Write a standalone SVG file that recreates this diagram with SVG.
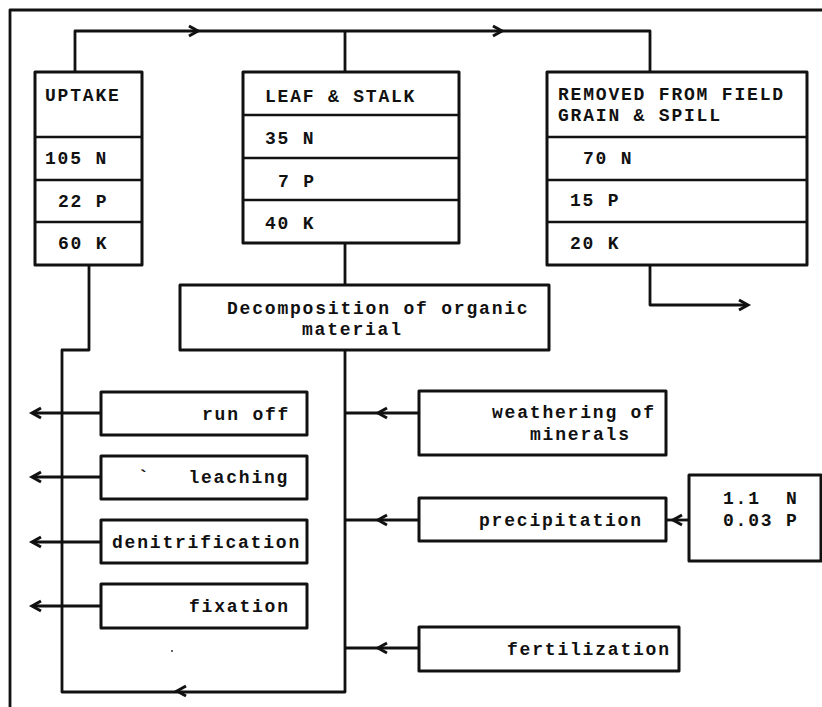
<svg xmlns="http://www.w3.org/2000/svg" width="822" height="707" viewBox="0 0 822 707">
<style>
.box{fill:#fff;stroke:#111;stroke-width:3;stroke-linejoin:round}
.div{stroke:#111;stroke-width:2.5}
.ln{fill:none;stroke:#111;stroke-width:2.8;stroke-linejoin:round}
.t{font-family:"Liberation Mono","DejaVu Sans Mono",monospace;font-weight:bold;font-size:18px;letter-spacing:1.8px;fill:#111;white-space:pre}
</style>
<defs>
<path id="chev" d="M9,-5 L0,0 L9,5" fill="none" stroke="#111" stroke-width="3" stroke-linejoin="miter"/>
</defs>
<rect width="822" height="707" fill="#fff"/>
<g id="frame">
<path class="ln" d="M10,707 V10 H822"/>
</g>
<g id="connectors">
<path class="ln" d="M75,72 V31 H650 V72"/>
<path class="ln" d="M345,31 V72"/>
<use href="#chev" transform="translate(198,31) rotate(180)"/>
<use href="#chev" transform="translate(502,31) rotate(180)"/>
<path class="ln" d="M650,265 V305 H747"/>
<use href="#chev" transform="translate(748,305) rotate(180)"/>
<path class="ln" d="M89,265 V350 H62 V692 H345 V350"/>
<use href="#chev" transform="translate(177,691)"/>
<path class="ln" d="M345,243 V285"/>
<path class="ln" d="M101,413 H33"/>
<use href="#chev" transform="translate(32,413)"/>
<path class="ln" d="M101,477 H33"/>
<use href="#chev" transform="translate(32,477)"/>
<path class="ln" d="M101,542 H33"/>
<use href="#chev" transform="translate(32,542)"/>
<path class="ln" d="M101,606 H33"/>
<use href="#chev" transform="translate(32,606)"/>
<path class="ln" d="M419,413 H345"/>
<use href="#chev" transform="translate(378,413)"/>
<path class="ln" d="M419,520 H345"/>
<use href="#chev" transform="translate(378,520)"/>
<path class="ln" d="M419,648 H345"/>
<use href="#chev" transform="translate(378,648)"/>
<path class="ln" d="M689,520 H666"/>
<use href="#chev" transform="translate(673,520)"/>
</g>
<g id="uptake">
<rect class="box" x="35" y="72" width="107" height="193"/>
<line class="div" x1="35" y1="137" x2="142" y2="137"/>
<line class="div" x1="35" y1="180" x2="142" y2="180"/>
<line class="div" x1="35" y1="222" x2="142" y2="222"/>
<text class="t" x="45" y="101">UPTAKE</text>
<text class="t" x="45" y="164">105 N</text>
<text class="t" x="58" y="207">22 P</text>
<text class="t" x="58" y="249">60 K</text>
</g>
<g id="leaf-stalk">
<rect class="box" x="243" y="72" width="216" height="171"/>
<line class="div" x1="243" y1="115" x2="459" y2="115"/>
<line class="div" x1="243" y1="158" x2="459" y2="158"/>
<line class="div" x1="243" y1="200" x2="459" y2="200"/>
<text class="t" x="265" y="102">LEAF &amp; STALK</text>
<text class="t" x="265" y="144">35 N</text>
<text class="t" x="278" y="187">7 P</text>
<text class="t" x="265" y="229">40 K</text>
</g>
<g id="removed">
<rect class="box" x="547" y="72" width="260" height="193"/>
<line class="div" x1="547" y1="137" x2="807" y2="137"/>
<line class="div" x1="547" y1="180" x2="807" y2="180"/>
<line class="div" x1="547" y1="222" x2="807" y2="222"/>
<text class="t" x="558" y="100">REMOVED FROM FIELD</text>
<text class="t" x="558" y="121">GRAIN &amp; SPILL</text>
<text class="t" x="583" y="164">70 N</text>
<text class="t" x="570" y="206">15 P</text>
<text class="t" x="570" y="249">20 K</text>
</g>
<g id="decomposition">
<rect class="box" x="180" y="285" width="369" height="65"/>
<text class="t" x="227" y="314">Decomposition of organic</text>
<text class="t" x="302" y="335">material</text>
</g>
<g id="run-off">
<rect class="box" x="101" y="392" width="206" height="43"/>
<text class="t" x="202" y="420">run off</text>
</g>
<g id="leaching">
<rect class="box" x="101" y="456" width="206" height="43"/>
<text class="t" x="138" y="483">`   leaching</text>
</g>
<g id="denitrification">
<rect class="box" x="101" y="520" width="206" height="43"/>
<text class="t" x="112" y="548">denitrification</text>
</g>
<g id="fixation">
<rect class="box" x="101" y="584" width="206" height="44"/>
<text class="t" x="189" y="612">fixation</text>
</g>
<g id="weathering">
<rect class="box" x="419" y="391" width="247" height="64"/>
<text class="t" x="492" y="418">weathering of</text>
<text class="t" x="530" y="440">minerals</text>
</g>
<g id="precipitation">
<rect class="box" x="419" y="498" width="247" height="43"/>
<text class="t" x="479" y="526">precipitation</text>
</g>
<g id="deposition">
<rect class="box" x="689" y="475" width="132" height="86"/>
<text class="t" x="723" y="504">1.1  N</text>
<text class="t" x="723" y="526">0.03 P</text>
</g>
<g id="fertilization">
<rect class="box" x="419" y="627" width="260" height="44"/>
<text class="t" x="507" y="655">fertilization</text>
</g>
<circle cx="172" cy="651" r="1" fill="#333"/>
</svg>
